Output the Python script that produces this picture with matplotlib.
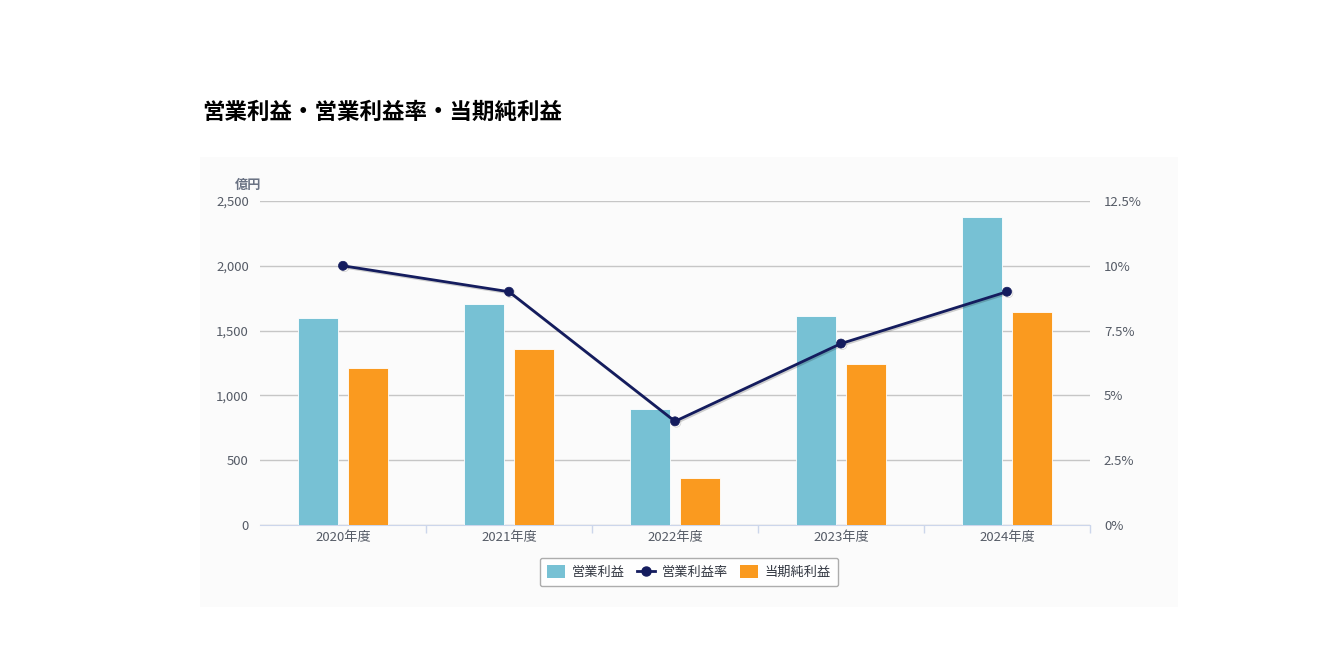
import numpy as np
import matplotlib
matplotlib.use("Agg")
import matplotlib.pyplot as plt
from matplotlib.patches import Patch, Rectangle
from matplotlib.lines import Line2D
import matplotlib.patheffects as pe
from matplotlib.ticker import FuncFormatter, FixedLocator

plt.rcParams['font.family'] = ['Noto Sans CJK JP', 'DejaVu Sans']

# data (億円, %)
years       = ["2020年度", "2021年度", "2022年度", "2023年度", "2024年度"]
op_profit   = [1600, 1705, 895, 1615, 2375]
net_profit  = [1215, 1360, 365, 1245, 1645]
op_margin   = [10.0, 9.0, 4.0, 7.0, 9.0]

C_OP   = "#77c1d4"
C_NET  = "#fa9a1f"
C_LINE = "#141c5e"
C_TXT  = "#555b66"

W, H = 1338, 657
fig = plt.figure(figsize=(W / 100, H / 100), dpi=100)
fig.patch.set_facecolor("white")

# panel background
fig.add_artist(Rectangle((200 / W, 1 - 607 / H), 978 / W, 450 / H,
                         transform=fig.transFigure, facecolor="#fbfbfb",
                         edgecolor="none", zorder=0))

fig.text(202 / W, 1 - 112 / H, "営業利益・営業利益率・当期純利益",
         fontsize=16.2, fontweight="bold", color="black", va="center", ha="left")

ax = fig.add_axes([260 / W, 1 - 525 / H, 830 / W, 324 / H])
ax.set_facecolor("none")
ax2 = ax.twinx()

x = np.arange(len(years))
bw = 0.245
ax.bar(x - 0.15, op_profit, bw, color=C_OP, edgecolor="white", linewidth=0.6, zorder=3)
ax.bar(x + 0.15, net_profit, bw, color=C_NET, edgecolor="white", linewidth=0.6, zorder=3)

ax.set_xlim(-0.5, len(years) - 0.5)
ax.set_ylim(0, 2500)
ax.set_yticks(np.arange(0, 2501, 500))
ax.yaxis.set_major_formatter(FuncFormatter(lambda v, p: f"{int(v):,}"))
ax.grid(axis="y", color="#c6c6c6", linewidth=1, zorder=0)
ax.set_axisbelow(True)

ax.set_xticks(x)
ax.set_xticklabels(years)
ax.xaxis.set_minor_locator(FixedLocator(np.arange(0.5, len(years), 1.0)))
ax.tick_params(axis="x", which="major", length=0, labelsize=9.5, colors=C_TXT, pad=4)
ax.tick_params(axis="x", which="minor", length=6, color="#ccd6eb", width=1)
ax.tick_params(axis="y", length=0, labelsize=9.5, colors=C_TXT, pad=8)

for s in ["top", "left", "right"]:
    ax.spines[s].set_visible(False)
    ax2.spines[s].set_visible(False)
ax.spines["bottom"].set_color("#ccd6eb")
ax2.spines["bottom"].set_visible(False)

ax2.plot(x, op_margin, color=C_LINE, linewidth=2, marker="o", markersize=6.5,
         markeredgecolor=C_LINE, markeredgewidth=0.5, zorder=5,
         path_effects=[pe.SimpleLineShadow(offset=(1, -1), alpha=0.18, shadow_color="#000000"),
                       pe.Normal()])
ax2.set_ylim(0, 12.5)
ax2.set_yticks([0, 2.5, 5, 7.5, 10, 12.5])
ax2.yaxis.set_major_formatter(FuncFormatter(lambda v, p: f"{v:g}%"))
ax2.tick_params(axis="y", length=0, labelsize=9.5, colors=C_TXT, pad=10)

fig.text(248 / W, 1 - 185 / H, "億円", fontsize=9.5, fontweight="bold",
         color="#6b7384", ha="center", va="center")

handles = [
    Patch(facecolor=C_OP, edgecolor="none"),
    Line2D([0], [0], color=C_LINE, linewidth=2, marker="o", markersize=6.5),
    Patch(facecolor=C_NET, edgecolor="none"),
]
leg = fig.legend(handles, ["営業利益", "営業利益率", "当期純利益"],
                 loc="center", bbox_to_anchor=(689 / W, 1 - 572 / H),
                 ncol=3, fontsize=9.5, frameon=True, fancybox=True,
                 handlelength=1.4, handleheight=1.1, handletextpad=0.5,
                 columnspacing=0.9, borderpad=0.55, labelcolor="#333842")
leg.get_frame().set_edgecolor("#999999")
leg.get_frame().set_linewidth(1)
leg.get_frame().set_facecolor("white")

fig.savefig("out.png", dpi=100)
